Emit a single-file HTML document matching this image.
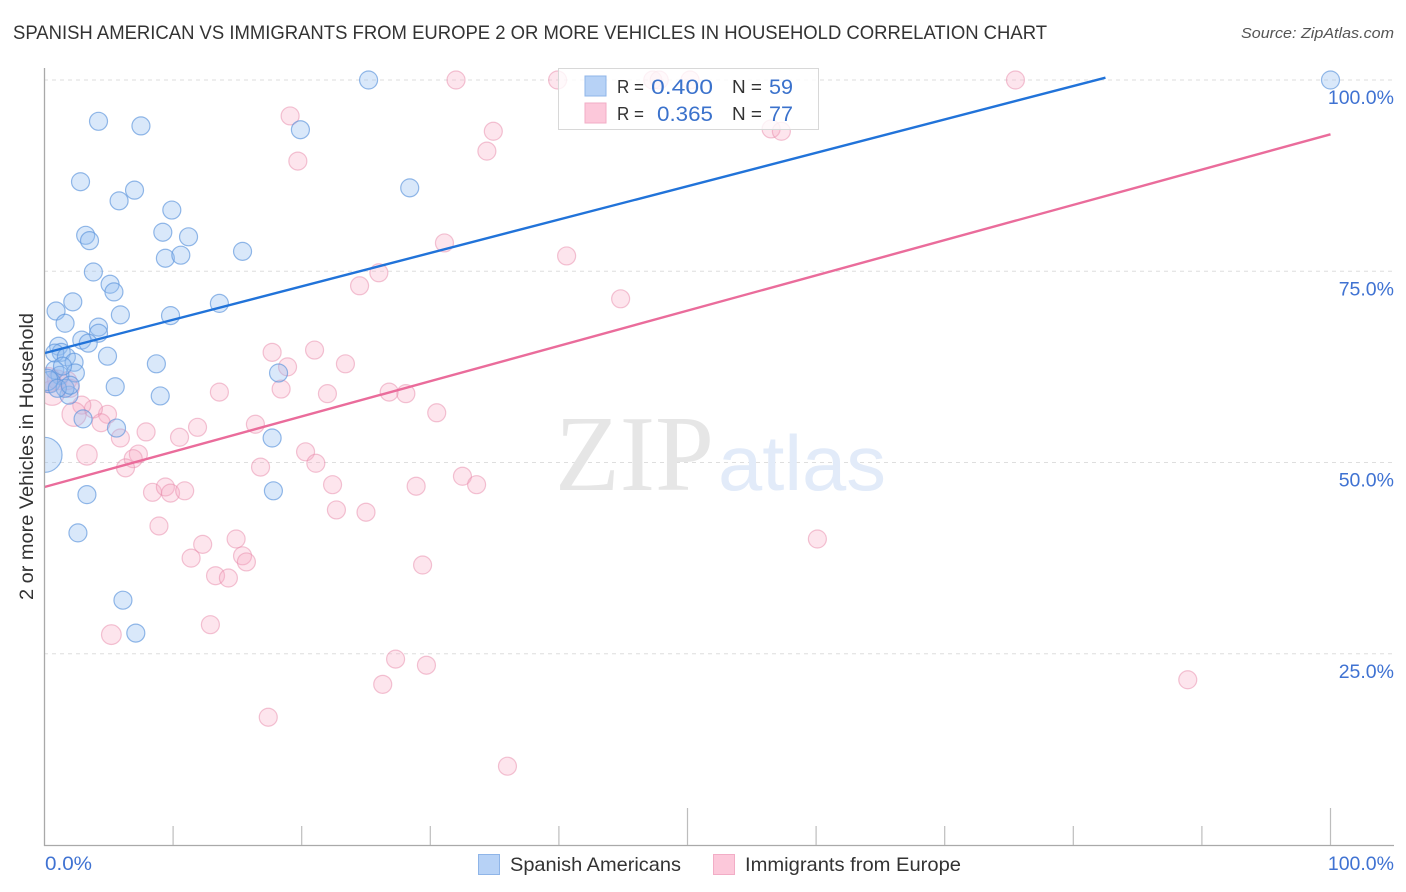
<!DOCTYPE html>
<html>
<head>
<meta charset="utf-8">
<title>Spanish American vs Immigrants from Europe chart</title>
<style>
html,body{margin:0;padding:0;background:#fff;width:1406px;height:892px;overflow:hidden}
svg{display:block}
text{font-family:"Liberation Sans",sans-serif}
</style>
</head>
<body>
<svg id="chart" xmlns="http://www.w3.org/2000/svg" width="1406" height="892" viewBox="0 0 1406 892">
  <rect x="0" y="0" width="1406" height="892" fill="#ffffff"/>
  <text x="13" y="39" font-size="19" fill="#333333" textLength="1034" lengthAdjust="spacingAndGlyphs">SPANISH AMERICAN VS IMMIGRANTS FROM EUROPE 2 OR MORE VEHICLES IN HOUSEHOLD CORRELATION CHART</text>
  <text x="1394" y="38" font-size="15" font-style="italic" fill="#555555" text-anchor="end" textLength="153" lengthAdjust="spacingAndGlyphs">Source: ZipAtlas.com</text>
  <g id="grid"></g>
  <g>
    <text x="555" y="490" style="font-family:'Liberation Serif',serif" font-size="108" fill="#e6e6e6" textLength="159" lengthAdjust="spacingAndGlyphs">ZIP</text>
    <text x="718" y="490" font-size="78" fill="#e2ebf9" textLength="168" lengthAdjust="spacingAndGlyphs">atlas</text>
  </g>
  <g id="marks"></g>
  <rect x="0" y="50" width="44.5" height="800" fill="#ffffff"/>
  <g id="axes"></g>
  <text transform="translate(33,456.5) rotate(-90)" font-size="19.5" fill="#333333" text-anchor="middle" textLength="287" lengthAdjust="spacingAndGlyphs">2 or more Vehicles in Household</text>

  <g>
    <rect x="558.5" y="68.5" width="260" height="61" fill="#ffffff" fill-opacity="0.78" stroke="#d8d8d8" stroke-width="1"/>
    <rect x="585" y="76" width="21" height="20" fill="#b7d2f6" stroke="#8fb5e8" stroke-width="1"/>
    <rect x="585" y="103" width="21" height="20" fill="#fcc8da" stroke="#f2adc6" stroke-width="1"/>
    <text x="617" y="93" font-size="18.5" fill="#333333" textLength="27" lengthAdjust="spacingAndGlyphs">R =</text>
    <text x="651" y="94" font-size="21.5" fill="#3b72cc" textLength="62" lengthAdjust="spacingAndGlyphs">0.400</text>
    <text x="732" y="93" font-size="18.5" fill="#333333" textLength="30" lengthAdjust="spacingAndGlyphs">N =</text>
    <text x="769" y="94" font-size="21.5" fill="#3b72cc" textLength="24" lengthAdjust="spacingAndGlyphs">59</text>
    <text x="617" y="120" font-size="18.5" fill="#333333" textLength="27" lengthAdjust="spacingAndGlyphs">R =</text>
    <text x="657" y="121" font-size="21.5" fill="#3b72cc" textLength="56" lengthAdjust="spacingAndGlyphs">0.365</text>
    <text x="732" y="120" font-size="18.5" fill="#333333" textLength="30" lengthAdjust="spacingAndGlyphs">N =</text>
    <text x="769" y="121" font-size="21.5" fill="#3b72cc" textLength="24" lengthAdjust="spacingAndGlyphs">77</text>
  </g>

  <g>
    <rect x="478.5" y="854.5" width="21" height="20" fill="#b7d2f6" stroke="#8fb5e8" stroke-width="1"/>
    <text x="510" y="871" font-size="19.5" fill="#333333" textLength="171" lengthAdjust="spacingAndGlyphs">Spanish Americans</text>
    <rect x="713.5" y="854.5" width="21" height="20" fill="#fcc8da" stroke="#f2adc6" stroke-width="1"/>
    <text x="745" y="871" font-size="19.5" fill="#333333" textLength="216" lengthAdjust="spacingAndGlyphs">Immigrants from Europe</text>
  </g>
</svg>
<script>
var blueX=[25.2,100,4.2,7.5,19.9,2.8,7.0,28.4,5.8,9.9,9.2,3.2,3.5,11.2,9.4,10.6,15.4,3.8,5.1,5.4,2.2,0.9,13.6,5.9,9.8,1.6,4.2,4.2,2.9,3.4,1.1,1.3,0.8,1.7,2.3,4.9,8.7,2.4,18.2,0.8,1.2,5.5,9.0,0.4,1.9,1.6,3.0,5.6,17.7,17.8,3.3,0,2.6,6.1,7.1,0.2,1.0,2.0,1.4];
var blueY=[100,100,94.6,94.0,93.5,86.7,85.6,85.9,84.2,83.0,80.1,79.7,79.0,79.5,76.7,77.1,77.6,74.9,73.3,72.3,71.0,69.8,70.8,69.3,69.2,68.2,67.7,66.9,66.0,65.6,65.2,64.4,64.3,63.8,63.1,63.9,62.9,61.7,61.7,62.1,61.4,59.9,58.7,60.5,58.8,59.7,55.7,54.5,53.2,46.3,45.8,51.0,40.8,32.0,27.7,60.8,59.7,60.1,62.6];
var blueWeight=[1,1,1,1,1,1,1,1,1,1,1,1,1,1,1,1,1,1,1,1,1,1,1,1,1,1,1,1,1,1,1,1,1,1,1,1,1,1,1,1,1,1,1,1.4,1,1,1,1,1,1,1,3.8,1,1,1,1.4,1,1,1];
var pinkX=[32.0,39.9,47.3,47.8,50.2,75.5,19.1,34.9,34.4,19.7,56.5,57.3,31.1,40.6,26.0,24.5,44.8,17.7,18.9,21.0,23.4,13.6,18.4,22.0,26.8,28.1,30.5,16.4,11.9,7.9,10.5,5.9,4.9,3.8,2.9,2.3,4.4,3.3,7.3,6.9,6.3,8.4,9.4,9.8,10.9,16.8,20.3,21.1,22.4,28.9,32.5,33.6,22.7,25.0,8.9,12.3,11.4,14.9,15.4,15.7,13.3,14.3,29.4,60.1,5.2,12.9,27.3,29.7,26.3,88.9,17.4,36.0,0.6,1.0,1.8,2.0,0.3];
var pinkY=[100,100,100,100,100,100,95.3,93.3,90.7,89.4,93.6,93.3,78.7,77.0,74.8,73.1,71.4,64.4,62.5,64.7,62.9,59.2,59.6,59.0,59.2,59.0,56.5,55.0,54.6,54.0,53.3,53.2,56.3,57.0,57.5,56.3,55.2,51.0,51.1,50.5,49.3,46.1,46.8,46.0,46.3,49.4,51.4,49.9,47.1,46.9,48.2,47.1,43.8,43.5,41.7,39.3,37.5,40.0,37.8,37.0,35.2,34.9,36.6,40.0,27.5,28.8,24.3,23.5,21.0,21.6,16.7,10.3,59.1,60.8,60.7,59.7,60.8];
var pinkWeight=[1,1,1,1,1,1,1,1,1,1,1,1,1,1,1,1,1,1,1,1,1,1,1,1,1,1,1,1,1,1,1,1,1,1,1,1.8,1,1.3,1,1,1,1,1,1,1,1,1,1,1,1,1,1,1,1,1,1,1,1,1,1,1,1,1,1,1.2,1,1,1,1,1,1,1,1.9,1.2,1,1,1.9];
var blueLineX=[0,82.5];
var blueLineY=[64.3,100.3];
var pinkLineX=[0,100];
var pinkLineY=[46.8,92.9];
var yTickValues=[100,75,50,25];
var yTickLabels=['100.0%','75.0%','50.0%','25.0%'];
var xTickValues=[10,20,30,40,50,60,70,80,90,100];
var xMajorTicks=[50,100];
var xEndLabels=['0.0%','100.0%'];

var NS='http://www.w3.org/2000/svg';
function sx(v){return 44.5+v*12.86;}
function sy(v){return 845-v*7.65;}
function make(tag,parent,attrs){
  var el=document.createElementNS(NS,tag);
  for(var k in attrs){el.setAttribute(k,attrs[k]);}
  parent.appendChild(el);
  return el;
}
var grid=document.getElementById('grid');
var axes=document.getElementById('axes');
var marks=document.getElementById('marks');

yTickValues.forEach(function(v,i){
  var line=make('line',grid,{x1:44,x2:1394,y1:sy(v),y2:sy(v),stroke:'#dedede','stroke-width':1,'stroke-dasharray':'4 4'});
  
  
  var t=make('text',axes,{x:1394,y:sy(v)+24,'font-size':19.5,fill:'#3f72d2','text-anchor':'end'});
  t.textContent=yTickLabels[i];
  
  
});

var yAxis=make('line',axes,{x1:44.5,x2:44.5,y1:68,y2:846,stroke:'#a9a9a9','stroke-width':1.3});


var xAxis=make('line',axes,{x1:44,x2:1394,y1:845.5,y2:845.5,stroke:'#a9a9a9','stroke-width':1.3});



xTickValues.forEach(function(v){
  var major=xMajorTicks.indexOf(v)>=0;
  var tick=make('line',axes,{x1:sx(v),x2:sx(v),y1:major?808:826,y2:845,stroke:'#bdbdbd','stroke-width':1.2});
  
  
});

var xLabelLeft=make('text',axes,{x:45,y:870,'font-size':19.5,fill:'#3f72d2',textLength:47,lengthAdjust:'spacingAndGlyphs'});
xLabelLeft.textContent=xEndLabels[0];


var xLabelRight=make('text',axes,{x:1394,y:870,'font-size':19.5,fill:'#3f72d2','text-anchor':'end'});
xLabelRight.textContent=xEndLabels[1];



function radius(w){return 9*Math.sqrt(w);}
pinkX.forEach(function(v,i){
  var c=make('circle',marks,{cx:sx(v),cy:sy(pinkY[i]),r:radius(pinkWeight[i]),fill:'#f7a8c2','fill-opacity':0.3,stroke:'#e88aaa','stroke-opacity':0.5,'stroke-width':1.2});
  
  
});
blueX.forEach(function(v,i){
  var c=make('circle',marks,{cx:sx(v),cy:sy(blueY[i]),r:radius(blueWeight[i]),fill:'#93bdf0','fill-opacity':0.35,stroke:'#5a93dc','stroke-opacity':0.65,'stroke-width':1.2});
  
  
});
var blueLine=make('line',marks,{x1:sx(blueLineX[0]),y1:sy(blueLineY[0]),x2:sx(blueLineX[1]),y2:sy(blueLineY[1]),stroke:'#2173d9','stroke-width':2.4});


var pinkLine=make('line',marks,{x1:sx(pinkLineX[0]),y1:sy(pinkLineY[0]),x2:sx(pinkLineX[1]),y2:sy(pinkLineY[1]),stroke:'#ea6c9b','stroke-width':2.4});


</script>
</body>
</html>
